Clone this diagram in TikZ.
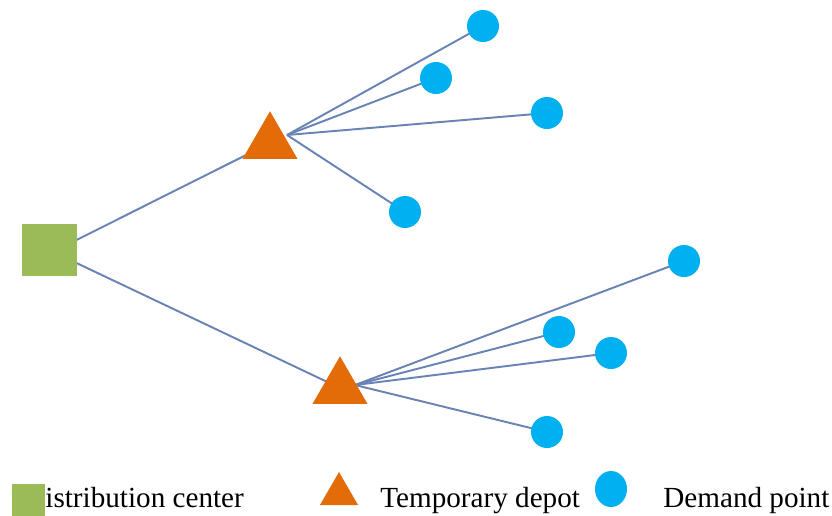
\documentclass[tikz,border=0pt]{standalone}
\usepackage{fontspec}
\setmainfont{Liberation Serif}
\usetikzlibrary{shapes.geometric, backgrounds}

\definecolor{dcgreen}{HTML}{9BBB59}
\definecolor{tdorange}{HTML}{E36C09}
\definecolor{dpblue}{HTML}{00B0F0}
\definecolor{linkblue}{RGB}{105,132,180}

\begin{document}
\begin{tikzpicture}[x=0.02cm, y=-0.02cm,
  center/.style={rectangle, fill=dcgreen, draw=none, minimum width=1.1cm, minimum height=1.04cm, inner sep=0pt},
  depot/.style={regular polygon, regular polygon sides=3, fill=tdorange, draw=none, minimum size=1.27cm, inner sep=0pt},
  demand/.style={circle, fill=dpblue, draw=none, minimum size=0.64cm, inner sep=0pt},
  link/.style={draw=linkblue, line width=1.1pt},
  legend/.style={anchor=base west, inner sep=0pt, font=\fontsize{16.6}{18}\selectfont}]
\useasboundingbox (0,0) rectangle (832,515);
\node[center] (dc) at (49.5,250) {};
\node[depot] (td1) at (270,143) {};
\node[depot] (td2) at (340,388) {};
\node[demand] (d1) at (483,26) {};
\node[demand] (d2) at (436,78) {};
\node[demand] (d3) at (547,113) {};
\node[demand] (d4) at (405,212) {};
\node[demand] (d5) at (684,261) {};
\node[demand] (d6) at (559,332) {};
\node[demand] (d7) at (611,353) {};
\node[demand] (d8) at (547,432) {};
% where the links meet inside the depots
\coordinate (h1) at (287,135);
\coordinate (h2) at (355,385);
\begin{scope}[on background layer]
\draw[link] (dc.center) ++(27,-10) -- (td1.center);
\draw[link] (dc.center) ++(27,13) -- (td2.center);
\foreach \d in {d1,d2,d3,d4} \draw[link] (h1) -- (\d.center);
\foreach \d in {d5,d6,d7,d8} \draw[link] (h2) -- (\d.center);
\end{scope}
% legend
\node[legend] (ldc) at (24,507) {Distribution center};
\node[center, minimum width=0.66cm, minimum height=0.64cm] (lsq) at (28.5,500) {};
\node[depot, minimum size=0.88cm] (ltd) at (339,494) {};
\node[legend] (ltdt) at (380,507) {Temporary depot};
\node[demand, ellipse, minimum width=0.64cm, minimum height=0.72cm] (ldp) at (611,489) {};
\node[legend] (ldpt) at (663,507) {Demand point};
\end{tikzpicture}
\end{document}
